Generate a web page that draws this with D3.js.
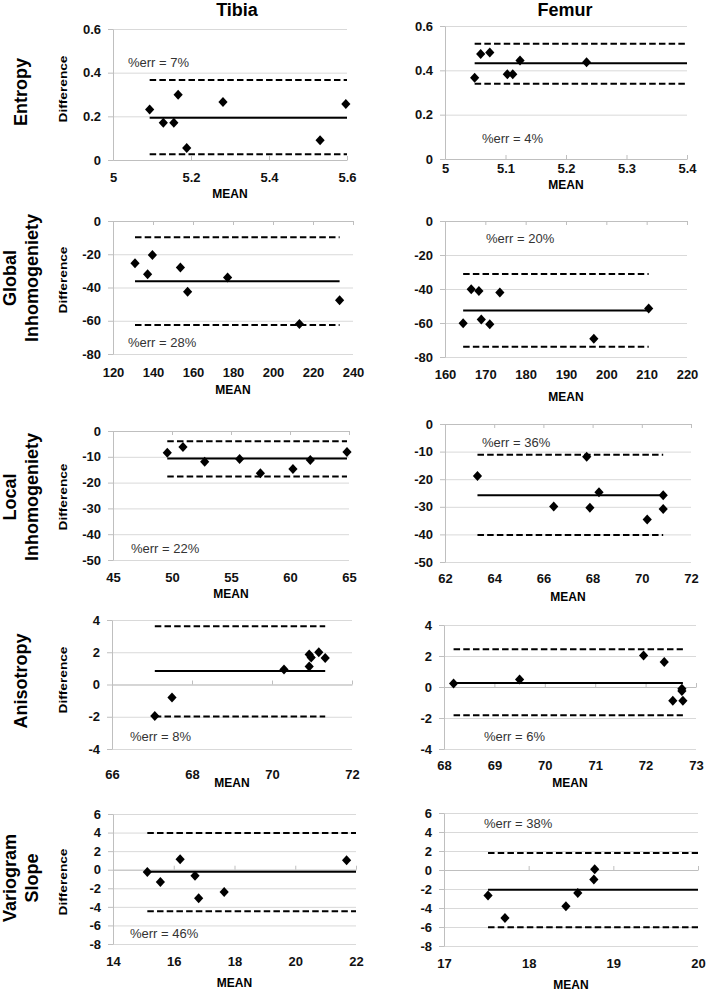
<!DOCTYPE html>
<html>
<head>
<meta charset="utf-8">
<script src="https://cdn.jsdelivr.net/npm/d3@7"></script>
<style>
  body { margin: 0; background: #fff; }
  svg text { font-family: "Liberation Sans", Arial, sans-serif; }
</style>
</head>
<body>
<svg id="chart" width="707" height="992"></svg>
<script>
// ---- data ----
const colTitles = ["Tibia", "Femur"];
const rowTitles = [["Entropy"], ["Global", "Inhomogeniety"], ["Local", "Inhomogeniety"], ["Anisotropy"], ["Variogram", "Slope"]];

// Entropy
const entTibX = [5.094, 5.129, 5.156, 5.167, 5.189, 5.282, 5.531, 5.597];
const entTibY = [0.231, 0.171, 0.171, 0.299, 0.055, 0.266, 0.090, 0.256];
const entTibLim = [0.194, 0.366, 0.026];   // mean, upper, lower
const entTibSpan = [5.094, 5.6];
const entFemX = [5.049, 5.059, 5.074, 5.103, 5.112, 5.124, 5.234];
const entFemY = [0.367, 0.474, 0.480, 0.382, 0.382, 0.444, 0.436];
const entFemLim = [0.432, 0.520, 0.340];
const entFemSpan = [5.049, 5.4];

// Global inhomogeneity
const gloTibX = [131.0, 137.3, 139.7, 153.7, 157.3, 177.3, 213.2, 233.3];
const gloTibY = [-25.4, -32.0, -20.4, -28.0, -42.6, -34.0, -62.0, -47.6];
const gloTibLim = [-36.2, -9.8, -62.6];
const gloTibSpan = [131.0, 233.3];
const gloFemX = [164.5, 166.5, 168.4, 169.0, 171.1, 173.6, 196.9, 210.5];
const gloFemY = [-60.1, -40.2, -41.2, -58.0, -60.7, -42.1, -69.3, -51.5];
const gloFemLim = [-52.7, -31.2, -74.0];
const gloFemSpan = [164.5, 210.5];

// Local inhomogeneity
const locTibX = [49.6, 50.93, 52.77, 55.73, 57.49, 60.25, 61.72, 64.83];
const locTibY = [-8.4, -6.2, -11.9, -10.9, -16.4, -14.7, -11.2, -8.1];
const locTibLim = [-10.7, -4.0, -17.6];
const locTibSpan = [49.6, 64.83];
const locFemX = [63.32, 66.42, 67.76, 67.89, 68.26, 70.22, 70.87, 70.87];
const locFemY = [-18.8, -29.9, -11.9, -30.3, -24.7, -34.6, -25.8, -30.8];
const locFemLim = [-25.8, -11.1, -40.2];
const locFemSpan = [63.32, 70.87];

// Anisotropy
const aniTibX = [67.07, 67.5, 70.3, 70.93, 70.93, 70.98, 71.17, 71.33];
const aniTibY = [-1.96, -0.81, 0.93, 1.12, 1.86, 1.67, 2.0, 1.65];
const aniTibLim = [0.83, 3.62, -1.98];
const aniTibSpan = [67.07, 71.33];
const aniFemX = [68.19, 69.5, 71.96, 72.37, 72.54, 72.72, 72.72, 72.74];
const aniFemY = [0.22, 0.49, 2.04, 1.61, -0.88, -0.11, -0.26, -0.88];
const aniFemLim = [0.26, 2.43, -1.83];
const aniFemSpan = [68.19, 72.74];

// Variogram slope
const varTibX = [15.13, 15.56, 16.21, 16.7, 16.82, 17.66, 21.69];
const varTibY = [-0.25, -1.33, 1.12, -0.65, -3.06, -2.41, 1.01];
const varTibLim = [-0.22, 3.96, -4.47];
const varTibSpan = [15.13, 22];
const varFemX = [17.52, 17.72, 18.44, 18.58, 18.77, 18.78];
const varFemY = [-2.68, -5.04, -3.81, -2.43, -0.99, 0.07];
const varFemLim = [-2.08, 1.8, -6.03];
const varFemSpan = [17.52, 20];

// tick values
const entTibXTicks = [5, 5.2, 5.4, 5.6];
const entFemXTicks = [5, 5.1, 5.2, 5.3, 5.4];
const entYTicks = [0, 0.2, 0.4, 0.6];
const gloTibXTicks = [120, 140, 160, 180, 200, 220, 240];
const gloFemXTicks = [160, 170, 180, 190, 200, 210, 220];
const gloYTicks = [-80, -60, -40, -20, 0];
const locTibXTicks = [45, 50, 55, 60, 65];
const locFemXTicks = [62, 64, 66, 68, 70, 72];
const locYTicks = [-50, -40, -30, -20, -10, 0];
const aniTibXTicks = [66, 68, 70, 72];
const aniFemXTicks = [68, 69, 70, 71, 72, 73];
const aniYTicks = [-4, -2, 0, 2, 4];
const varTibXTicks = [14, 16, 18, 20, 22];
const varFemXTicks = [17, 18, 19, 20];
const varYTicks = [-8, -6, -4, -2, 0, 2, 4, 6];

const errLabels = ["%err = 7%", "%err = 4%", "%err = 28%", "%err = 20%", "%err = 22%",
                   "%err = 36%", "%err = 8%", "%err = 6%", "%err = 46%", "%err = 38%"];

// ---- layout (pixels) ----
// l, r, t, b: plot box; tdy: x tick label offset; my: MEAN baseline; ex, ey: %err text
const boxes = [
  {l: 113, r: 347, t: 29,  b: 160, tdy: 17, my: 198, ex: 128, ey: 67},
  {l: 445, r: 687, t: 26,  b: 159, tdy: 9,  my: 189, ex: 482, ey: 143},
  {l: 113, r: 353, t: 221, b: 354, tdy: 18, my: 394, ex: 128, ey: 347},
  {l: 445, r: 687, t: 221, b: 357, tdy: 17, my: 401, ex: 486, ey: 243},
  {l: 113, r: 349, t: 431, b: 560, tdy: 17, my: 598, ex: 131, ey: 553},
  {l: 445, r: 691, t: 424, b: 562, tdy: 16, my: 601, ex: 482, ey: 447},
  {l: 112, r: 352, t: 620, b: 749, tdy: 25, my: 787, ex: 130, ey: 741},
  {l: 444, r: 696, t: 625, b: 749, tdy: 16, my: 787, ex: 484, ey: 741},
  {l: 113, r: 356, t: 814, b: 944, tdy: 17, my: 987, ex: 130, ey: 938},
  {l: 444, r: 698, t: 813, b: 946, tdy: 17, my: 989, ex: 484, ey: 828}
];

const panels = [
  {x: entTibX, y: entTibY, lim: entTibLim, span: entTibSpan, xt: entTibXTicks, yt: entYTicks},
  {x: entFemX, y: entFemY, lim: entFemLim, span: entFemSpan, xt: entFemXTicks, yt: entYTicks},
  {x: gloTibX, y: gloTibY, lim: gloTibLim, span: gloTibSpan, xt: gloTibXTicks, yt: gloYTicks},
  {x: gloFemX, y: gloFemY, lim: gloFemLim, span: gloFemSpan, xt: gloFemXTicks, yt: gloYTicks},
  {x: locTibX, y: locTibY, lim: locTibLim, span: locTibSpan, xt: locTibXTicks, yt: locYTicks},
  {x: locFemX, y: locFemY, lim: locFemLim, span: locFemSpan, xt: locFemXTicks, yt: locYTicks},
  {x: aniTibX, y: aniTibY, lim: aniTibLim, span: aniTibSpan, xt: aniTibXTicks, yt: aniYTicks},
  {x: aniFemX, y: aniFemY, lim: aniFemLim, span: aniFemSpan, xt: aniFemXTicks, yt: aniYTicks},
  {x: varTibX, y: varTibY, lim: varTibLim, span: varTibSpan, xt: varTibXTicks, yt: varYTicks},
  {x: varFemX, y: varFemY, lim: varFemLim, span: varFemSpan, xt: varFemXTicks, yt: varYTicks}
];

const svg = d3.select("#chart");
svg.append("rect").attr("width", 707).attr("height", 992).attr("fill", "#fff");

// column headers
const colX = [237, 565];
svg.selectAll("text.col")
  .data(colTitles)
  .enter()
  .append("text")
  .attr("class", "col")
  .attr("x", (d, i) => colX[i])
  .attr("y", 16)
  .attr("text-anchor", "middle")
  .style("font-size", "18px")
  .style("font-weight", "bold")
  .text(d => d);

// row headers (rotated)
const rowY = [92, 278, 497, 681, 878];
rowTitles.forEach((lines, i) => {
  const xs = lines.length === 1 ? [21] : [10, 32];
  lines.forEach((s, j) => {
    svg.append("text")
      .attr("transform", `translate(${xs[j]},${rowY[i]}) rotate(-90)`)
      .attr("text-anchor", "middle")
      .attr("dominant-baseline", "central")
      .style("font-size", "18px")
      .style("font-weight", "bold")
      .text(s);
  });
});

// "Difference" labels for the left column
const diffY = [89, 280, 497, 680, 882];
diffY.forEach(cy => {
  svg.append("text")
    .attr("transform", `translate(63,${cy}) rotate(-90)`)
    .attr("text-anchor", "middle")
    .attr("dominant-baseline", "central")
    .attr("textLength", 67)
    .attr("lengthAdjust", "spacingAndGlyphs")
    .style("font-size", "11.5px")
    .style("font-weight", "bold")
    .text("Difference");
});

const diamond = "M0,-5L4.6,0L0,5L-4.6,0Z";

panels.forEach((p, i) => {
  const bx = boxes[i];
  const g = svg.append("g");
  const x = d3.scaleLinear().domain([p.xt[0], p.xt[p.xt.length - 1]]).range([bx.l, bx.r]);
  const y = d3.scaleLinear().domain([p.yt[0], p.yt[p.yt.length - 1]]).range([bx.b, bx.t]);

  // horizontal gridlines
  const grid = g.append("g")
    .attr("transform", `translate(${bx.l},0)`)
    .call(d3.axisLeft(y).tickValues(p.yt).tickSize(-(bx.r - bx.l)).tickFormat(""));
  grid.select(".domain").remove();
  grid.selectAll("line").attr("stroke", "#d9d9d9");

  // y axis
  const ya = g.append("g")
    .attr("transform", `translate(${bx.l},0)`)
    .call(d3.axisLeft(y).tickValues(p.yt).tickSize(5).tickSizeOuter(0).tickPadding(7).tickFormat(d => String(d)));
  ya.select(".domain").attr("stroke", "#bfbfbf");
  ya.selectAll("line").attr("stroke", "#bfbfbf");
  ya.selectAll("text")
    .style("font-size", "13px")
    .style("font-weight", "bold")
    .attr("fill", "#111")
    .style("font-family", '"Liberation Sans", Arial, sans-serif');

  // x axis line crossing at zero
  const zeroTop = p.yt[p.yt.length - 1] === 0;
  const xa = g.append("g")
    .attr("transform", `translate(0,${y(0)})`)
    .call((zeroTop ? d3.axisBottom(x) : d3.axisTop(x)).tickValues(p.xt).tickSize(4).tickSizeOuter(0).tickFormat(""));
  xa.select(".domain").attr("stroke", "#bfbfbf");
  xa.selectAll("line").attr("stroke", "#bfbfbf");

  // x tick labels at the bottom
  const xl = g.append("g")
    .attr("transform", `translate(0,${bx.b + bx.tdy})`)
    .call(d3.axisBottom(x).tickValues(p.xt).tickSize(0).tickPadding(0).tickFormat(d => String(d)));
  xl.select(".domain").remove();
  xl.selectAll("text")
    .attr("dy", "0.35em")
    .style("font-size", "13px")
    .style("font-weight", "bold")
    .attr("fill", "#111")
    .style("font-family", '"Liberation Sans", Arial, sans-serif');

  // MEAN label
  g.append("text")
    .attr("x", (bx.l + bx.r) / 2)
    .attr("y", bx.my)
    .attr("text-anchor", "middle")
    .style("font-size", "12px")
    .style("font-weight", "bold")
    .text("MEAN");

  // mean and limits of agreement
  g.selectAll("line.lim")
    .data(p.lim)
    .enter()
    .append("line")
    .attr("class", "lim")
    .attr("x1", x(p.span[0]))
    .attr("x2", x(p.span[1]))
    .attr("y1", d => y(d))
    .attr("y2", d => y(d))
    .attr("stroke", "#000")
    .attr("stroke-width", 2)
    .attr("stroke-dasharray", (d, k) => k === 0 ? null : "6.5,3.2");

  // points
  g.selectAll("path.pt")
    .data(p.x.map((v, k) => [v, p.y[k]]))
    .enter()
    .append("path")
    .attr("class", "pt")
    .attr("d", diamond)
    .attr("transform", d => `translate(${x(d[0])},${y(d[1])})`)
    .attr("fill", "#000");

  // %err annotation
  g.append("text")
    .attr("x", bx.ex)
    .attr("y", bx.ey)
    .style("font-size", "13px")
    .attr("fill", "#333")
    .text(errLabels[i]);
});
</script>
</body>
</html>
